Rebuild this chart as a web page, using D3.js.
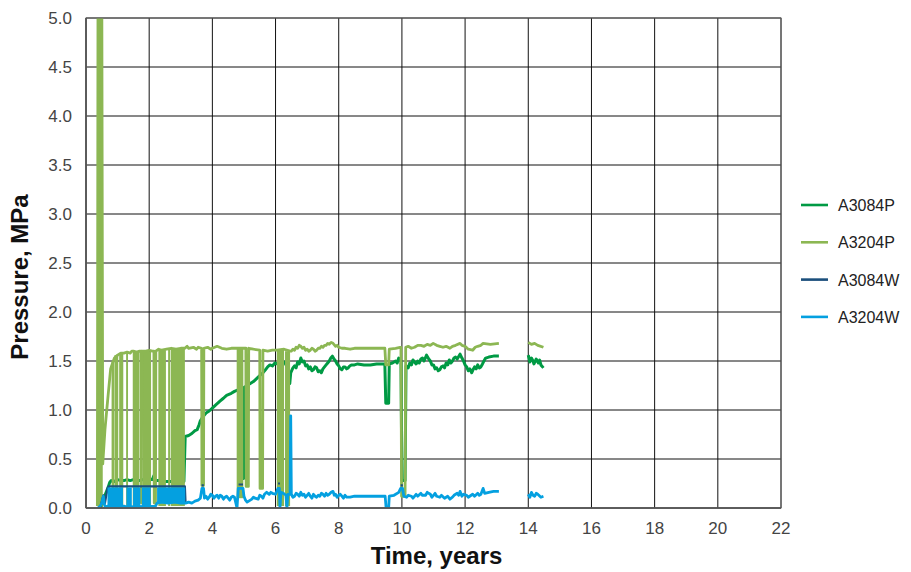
<!DOCTYPE html>
<html>
<head>
<meta charset="utf-8">
<script src="https://cdn.jsdelivr.net/npm/d3@7"></script>
<style>
  body { margin: 0; background: #fff; }
  svg text { font-family: "Liberation Sans", Arial, sans-serif; }
</style>
</head>
<body>
<div id="chart"></div>
<script>
// tick labels
var xTicks = [0, 2, 4, 6, 8, 10, 12, 14, 16, 18, 20, 22];
var yTicks = [0, 0.5, 1.0, 1.5, 2.0, 2.5, 3.0, 3.5, 4.0, 4.5, 5.0];
var seriesNames = ["A3084P", "A3204P", "A3084W", "A3204W"];

// [years, MPa]; null value = gap in record
var a3084P = [
  [0.45,0.0],[0.5,0.03],[0.55,0.08],[0.6,0.13],[0.65,0.17],[0.7,0.21],[0.75,0.26],[0.8,0.28],[0.9,0.27],[1.0,0.29],
  [1.1,0.28],[1.2,0.28],[1.3,0.29],[1.4,0.28],[1.5,0.29],[1.6,0.28],[1.7,0.28],[1.8,0.29],[1.9,0.28],[2.0,0.29],
  [2.1,0.29],[2.15,0.33],[2.18,0.28],[2.3,0.28],[2.5,0.27],[2.7,0.27],[2.9,0.27],[3.1,0.27],
  [3.14,0.73],[3.25,0.74],[3.35,0.76],[3.45,0.79],[3.52,0.80],[3.58,0.85],[3.62,0.89],[3.7,0.93],[3.8,0.97],
  [3.9,0.99],[4.0,1.02],[4.1,1.05],[4.24,1.09],[4.35,1.12],[4.45,1.15],[4.6,1.17],[4.7,1.19],[4.85,1.21],
  [4.95,1.22],[4.96,0.3],[4.99,0.3],[5.0,1.23],[5.1,1.25],[5.2,1.27],[5.3,1.29],[5.4,1.32],[5.5,1.35],[5.6,1.38],
  [5.68,1.41],[5.75,1.44],[5.82,1.46],[5.9,1.45],[5.98,1.48],[6.05,1.47],[6.14,1.46],[6.22,1.50],[6.3,1.48],
  [6.38,1.43],[6.42,1.36],[6.45,1.27],[6.48,1.38],[6.55,1.43],[6.6,1.45],[6.65,1.43],[6.7,1.49],[6.75,1.47],
  [6.8,1.53],[6.85,1.49],[6.9,1.50],[6.95,1.45],[7.0,1.46],[7.05,1.42],[7.1,1.44],[7.15,1.40],[7.2,1.41],
  [7.25,1.44],[7.3,1.43],[7.35,1.39],[7.4,1.40],[7.45,1.38],[7.5,1.42],[7.55,1.44],[7.6,1.46],[7.65,1.48],
  [7.7,1.50],[7.75,1.53],[7.8,1.55],[7.85,1.52],[7.9,1.50],[7.95,1.47],[8.0,1.45],[8.05,1.42],[8.1,1.41],
  [8.15,1.44],[8.2,1.44],[8.25,1.42],[8.3,1.43],[8.35,1.45],[8.4,1.46],[8.5,1.46],[8.6,1.47],[8.8,1.46],
  [9.0,1.46],[9.2,1.47],[9.46,1.47],[9.49,1.07],[9.58,1.07],[9.6,1.47],[9.7,1.48],[9.8,1.50],[9.85,1.48],
  [9.9,1.53],[9.97,1.50],[10.0,0.28],[10.1,0.28],[10.13,1.45],[10.2,1.43],[10.25,1.48],[10.3,1.46],[10.35,1.51],
  [10.4,1.49],[10.45,1.47],[10.5,1.50],[10.55,1.48],[10.6,1.52],[10.65,1.53],[10.7,1.50],[10.78,1.56],
  [10.85,1.52],[10.9,1.50],[10.95,1.46],[11.0,1.46],[11.05,1.42],[11.1,1.43],[11.15,1.40],[11.2,1.41],
  [11.25,1.44],[11.3,1.45],[11.35,1.43],[11.4,1.48],[11.45,1.46],[11.5,1.51],[11.55,1.48],[11.6,1.50],
  [11.65,1.53],[11.7,1.54],[11.75,1.52],[11.84,1.57],[11.9,1.53],[11.95,1.50],[12.0,1.46],[12.05,1.44],
  [12.1,1.40],[12.15,1.42],[12.21,1.38],[12.25,1.41],[12.3,1.44],[12.35,1.42],[12.4,1.46],[12.45,1.43],
  [12.5,1.44],[12.55,1.47],[12.58,1.49],[12.65,1.53],[12.75,1.54],[12.9,1.55],[13.07,1.55],[13.5,null],
  [14.0,1.56],[14.05,1.49],[14.1,1.53],[14.15,1.50],[14.18,1.47],[14.25,1.52],[14.32,1.48],[14.36,1.51],
  [14.4,1.46],[14.48,1.43]
];

var a3204P = [
  [0.36,0.02],[0.38,5.3],[0.5,5.3],[0.53,0.45],[0.6,0.8],[0.7,1.15],[0.78,1.42],[0.81,1.45],[0.9,1.53],[1.0,1.56],
  [1.1,1.58],[1.2,1.58],[1.3,1.59],[1.4,1.58],[1.45,1.6],[1.5,1.6],[1.6,1.59],[1.7,1.6],[1.74,1.6],[1.75,0.05],
  [1.77,1.6],[1.9,1.6],[2.0,1.61],[2.1,1.6],[2.15,1.6],[2.16,0.05],[2.2,0.05],[2.21,1.6],[2.3,1.62],[2.4,1.61],
  [2.55,1.62],[2.7,1.63],[2.85,1.62],[3.0,1.63],[3.13,1.63],[3.2,1.65],[3.25,1.63],[3.4,1.64],[3.5,1.62],
  [3.55,1.64],[3.66,1.63],[3.67,0.23],[3.72,0.23],[3.73,1.63],[3.85,1.64],[3.95,1.62],[4.0,1.63],[4.15,1.65],
  [4.3,1.63],[4.45,1.62],[4.6,1.63],[4.77,1.63],[4.98,1.63],[5.06,1.63],[5.07,0.22],[5.14,0.22],[5.15,1.63],
  [5.3,1.62],[5.5,1.61],[5.51,0.2],[5.59,0.2],[5.6,1.61],[5.75,1.6],[5.9,1.61],[6.04,1.61],[6.27,1.62],[6.46,1.6],
  [6.5,1.6],[6.55,1.62],[6.6,1.61],[6.65,1.64],[6.7,1.63],[6.75,1.66],[6.8,1.65],[6.85,1.63],[6.9,1.64],
  [6.95,1.61],[7.0,1.62],[7.05,1.60],[7.1,1.61],[7.15,1.63],[7.2,1.62],[7.25,1.60],[7.3,1.61],[7.35,1.63],
  [7.4,1.63],[7.45,1.65],[7.5,1.64],[7.55,1.66],[7.6,1.66],[7.65,1.68],[7.7,1.67],[7.76,1.69],[7.82,1.68],
  [7.9,1.65],[7.95,1.66],[8.0,1.64],[8.1,1.63],[8.2,1.63],[8.36,1.62],[8.5,1.63],[8.7,1.63],[8.9,1.63],[9.1,1.63],
  [9.3,1.63],[9.46,1.63],[9.49,1.46],[9.58,1.46],[9.6,1.62],[9.8,1.63],[9.94,1.64],[9.97,1.64],[9.99,0.12],
  [10.1,0.12],[10.12,1.64],[10.2,1.65],[10.3,1.63],[10.4,1.64],[10.5,1.66],[10.6,1.66],[10.7,1.65],[10.8,1.67],
  [10.9,1.66],[10.99,1.68],[11.1,1.66],[11.2,1.65],[11.3,1.64],[11.4,1.65],[11.52,1.63],[11.6,1.65],[11.7,1.66],
  [11.84,1.68],[11.9,1.66],[12.0,1.65],[12.1,1.62],[12.24,1.61],[12.32,1.64],[12.4,1.65],[12.5,1.66],[12.57,1.68],
  [12.8,1.67],[13.07,1.68],[13.5,null],[14.0,1.69],[14.1,1.67],[14.2,1.68],[14.3,1.66],[14.48,1.64]
];

// only the visible parts of A3084W (rest lies under A3204W)
var a3084W = [
  [0.45,0.0],[0.55,0.13],[0.6,0.05],[0.68,0.2],[0.72,0.22],[1.5,0.22],[2.2,0.22],[3.13,0.22],[3.15,0.06],[3.2,null],
  [3.66,0.23],[3.73,0.23],[3.8,null],[4.83,0.24],[4.97,0.24],[5.0,null],[6.08,0.25],[6.14,0.25],[6.2,null],
  [9.96,0.23],[10.03,0.23]
];

var a3204W = [
  [0.38,0.0],[0.45,0.02],[0.5,0.05],[0.55,0.12],[0.58,0.04],[0.62,0.0],[0.68,0.02],[1.2,0.02],[1.3,0.01],[2.2,0.02],
  [2.25,0.05],[2.4,0.06],[2.6,0.05],[2.8,0.06],[3.0,0.05],[3.15,0.05],[3.25,0.06],[3.35,0.05],[3.45,0.07],
  [3.55,0.08],[3.62,0.1],[3.67,0.2],[3.72,0.2],[3.75,0.1],[3.8,0.12],[3.85,0.09],[3.9,0.11],[3.95,0.14],[4.0,0.13],
  [4.05,0.1],[4.1,0.12],[4.15,0.13],[4.2,0.1],[4.25,0.13],[4.3,0.12],[4.35,0.09],[4.4,0.11],[4.45,0.12],[4.5,0.1],
  [4.55,0.08],[4.6,0.11],[4.65,0.12],[4.7,0.11],[4.78,0.0],[4.82,0.2],[4.97,0.2],[5.0,0.12],[5.05,0.08],[5.1,0.06],
  [5.15,0.07],[5.25,0.09],[5.3,0.11],[5.35,0.1],[5.45,0.09],[5.5,0.13],[5.55,0.12],[5.6,0.1],[5.65,0.14],
  [5.72,0.16],[5.8,0.14],[5.85,0.16],[5.9,0.15],[6.0,0.14],[6.08,0.2],[6.12,0.2],[6.14,0.0],[6.17,0.16],
  [6.25,0.15],[6.33,0.13],[6.36,0.0],[6.39,0.14],[6.46,0.14],[6.48,0.94],[6.5,0.14],[6.55,0.11],[6.6,0.12],
  [6.65,0.15],[6.7,0.14],[6.75,0.12],[6.8,0.16],[6.85,0.13],[6.9,0.14],[6.95,0.11],[7.0,0.13],[7.05,0.15],
  [7.1,0.12],[7.15,0.1],[7.2,0.14],[7.25,0.12],[7.3,0.11],[7.35,0.13],[7.4,0.12],[7.45,0.15],[7.5,0.14],
  [7.55,0.12],[7.6,0.15],[7.65,0.13],[7.7,0.14],[7.76,0.16],[7.82,0.17],[7.86,0.13],[7.9,0.14],[7.95,0.11],
  [8.0,0.13],[8.05,0.14],[8.1,0.12],[8.15,0.1],[8.2,0.13],[8.25,0.11],[8.36,0.11],[8.5,0.12],[8.7,0.12],[8.9,0.12],
  [9.1,0.12],[9.3,0.12],[9.47,0.12],[9.5,0.0],[9.58,0.0],[9.6,0.12],[9.75,0.13],[9.9,0.16],[9.96,0.2],[10.02,0.2],
  [10.06,0.12],[10.15,0.11],[10.2,0.13],[10.3,0.12],[10.35,0.1],[10.45,0.14],[10.5,0.12],[10.6,0.15],[10.65,0.13],
  [10.75,0.13],[10.8,0.16],[10.9,0.14],[10.95,0.11],[11.0,0.13],[11.05,0.15],[11.1,0.12],[11.2,0.11],[11.25,0.13],
  [11.35,0.1],[11.45,0.12],[11.52,0.09],[11.6,0.11],[11.65,0.13],[11.75,0.15],[11.8,0.13],[11.84,0.17],
  [11.9,0.12],[11.95,0.14],[12.05,0.13],[12.1,0.11],[12.24,0.14],[12.3,0.12],[12.4,0.15],[12.45,0.13],
  [12.5,0.14],[12.57,0.2],[12.62,0.15],[12.75,0.16],[12.9,0.17],[13.07,0.17],[13.5,null],[14.0,0.14],[14.05,0.11],
  [14.1,0.16],[14.15,0.13],[14.2,0.12],[14.25,0.15],[14.3,0.14],[14.4,0.11],[14.48,0.12]
];

// rapid on/off switching periods, drawn as filled bands: [t0, t1, low, high]
var a3204PBands = [
  [0.36,0.53,0.02,5.3],[0.81,0.89,0.02,1.5],[0.9,1.02,0.02,1.56],[1.05,1.18,0.02,1.58],[1.27,1.33,0.02,1.59],
  [1.48,1.69,0.02,1.6],[1.79,2.06,0.02,1.6],[2.29,2.53,0.02,1.61],[2.6,2.66,0.02,1.62],[2.68,3.13,0.02,1.63],
  [4.77,4.98,0.1,1.63],[6.04,6.27,0.02,1.62],[6.3,6.46,0.02,1.6]
];
var a3204WBands = [
  [0.68,1.17,0.0,0.21],[1.28,1.45,0.0,0.21],[1.49,1.72,0.0,0.21],[1.77,2.05,0.0,0.21],[2.25,3.14,0.05,0.21]
];

var colors = {A3084P: "#009a44", A3204P: "#8cb753", A3084W: "#1b4f7c", A3204W: "#04a0e0"};

var W = 911, H = 572;
var margin = {left: 86, top: 18, right: 130, bottom: 64};
var width = W - margin.left - margin.right;
var height = H - margin.top - margin.bottom;

var svg = d3.select("#chart").append("svg")
    .attr("width", W)
    .attr("height", H);
var g = svg.append("g")
    .attr("transform", "translate(" + margin.left + "," + margin.top + ")");

var x = d3.scaleLinear().domain([0, 22]).range([0, width]);
var y = d3.scaleLinear().domain([0, 5]).range([height, 0]);

// grid
g.selectAll(".vgrid").data(xTicks).enter().append("line")
    .attr("x1", d => x(d)).attr("x2", d => x(d))
    .attr("y1", 0).attr("y2", height)
    .attr("stroke", "#111").attr("stroke-width", 1);
g.selectAll(".hgrid").data(yTicks).enter().append("line")
    .attr("x1", 0).attr("x2", width)
    .attr("y1", d => y(d)).attr("y2", d => y(d))
    .attr("stroke", "#111").attr("stroke-width", 1);

g.append("clipPath").attr("id", "plotclip")
  .append("rect").attr("width", width).attr("height", height);

var plot = g.append("g").attr("clip-path", "url(#plotclip)");

var line = d3.line()
    .defined(d => d[1] !== null)
    .x(d => x(d[0]))
    .y(d => y(d[1]));

function drawBands(bands, color) {
  plot.selectAll(null).data(bands).enter().append("rect")
      .attr("x", d => x(d[0]))
      .attr("width", d => x(d[1]) - x(d[0]))
      .attr("y", d => y(d[3]))
      .attr("height", d => y(d[2]) - y(d[3]))
      .attr("fill", color);
}
function drawLine(data, color, w) {
  plot.append("path").datum(data)
      .attr("d", line)
      .attr("fill", "none")
      .attr("stroke", color)
      .attr("stroke-width", w)
      .attr("stroke-linejoin", "round");
}

drawLine(a3084P, colors.A3084P, 3);
drawBands(a3204PBands, colors.A3204P);
drawLine(a3204P, colors.A3204P, 2.8);
drawLine(a3084W, colors.A3084W, 2.2);
drawBands(a3204WBands, colors.A3204W);
drawLine(a3204W, colors.A3204W, 2.8);

// frame
g.append("rect").attr("width", width).attr("height", height)
    .attr("fill", "none").attr("stroke", "#666").attr("stroke-width", 1);
g.append("line").attr("x1", 0).attr("x2", width).attr("y1", height).attr("y2", height)
    .attr("stroke", "#555").attr("stroke-width", 1.6);
g.append("line").attr("x1", 0).attr("x2", 0).attr("y1", 0).attr("y2", height)
    .attr("stroke", "#555").attr("stroke-width", 1.6);

// tick labels
g.selectAll(".xlab").data(xTicks).enter().append("text")
    .attr("x", d => x(d)).attr("y", height + 26)
    .attr("text-anchor", "middle")
    .style("font-size", "17px").style("fill", "#444")
    .text(d => d);
g.selectAll(".ylab").data(yTicks).enter().append("text")
    .attr("x", -14).attr("y", d => y(d) + 6)
    .attr("text-anchor", "end")
    .style("font-size", "17px").style("fill", "#444")
    .text(d => d3.format(".1f")(d));

// axis titles
g.append("text")
    .attr("x", width / 2 + 3).attr("y", height + 56)
    .attr("text-anchor", "middle")
    .style("font-size", "24px").style("font-weight", "bold").style("fill", "#111")
    .text("Time, years");
g.append("text")
    .attr("transform", "translate(" + (-58) + "," + (height / 2 + 14) + ") rotate(-90)")
    .attr("text-anchor", "middle")
    .style("font-size", "24px").style("font-weight", "bold").style("fill", "#111")
    .text("Pressure, MPa");

// legend
var legend = svg.append("g").attr("transform", "translate(801,205)");
var item = legend.selectAll(".item").data(seriesNames).enter().append("g")
    .attr("transform", (d, i) => "translate(0," + (i * 37.3) + ")");
item.append("line")
    .attr("x1", 0).attr("x2", 27).attr("y1", 0).attr("y2", 0)
    .attr("stroke", d => colors[d]).attr("stroke-width", 2.6);
item.append("text")
    .attr("x", 37).attr("y", 6)
    .style("font-size", "16px").style("fill", "#222")
    .text(d => d);
</script>
</body>
</html>
